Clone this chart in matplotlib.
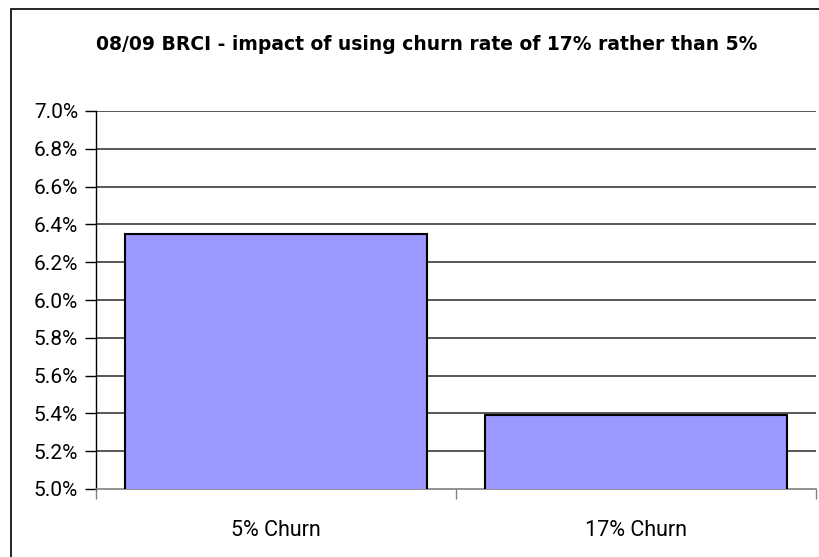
import matplotlib
matplotlib.use("Agg")
import matplotlib.pyplot as plt
from matplotlib.patches import Rectangle
from matplotlib.ticker import FixedLocator, FuncFormatter

categories = ["5% Churn", "17% Churn"]
values = [6.35, 5.39]
yticks = [5.0, 5.2, 5.4, 5.6, 5.8, 6.0, 6.2, 6.4, 6.6, 6.8, 7.0]
title = "08/09 BRCI - impact of using churn rate of 17% rather than 5%"

plt.rcParams['font.family'] = ['Roboto', 'DejaVu Sans']
fig = plt.figure(figsize=(8.2, 5.57), dpi=100)
W, H = 820, 557
fig.patches.append(Rectangle((11 / W, -0.05), 1.2, 1 - 9 / H + 0.05, transform=fig.transFigure,
                             fill=False, edgecolor='black', linewidth=1.2, zorder=0))

ax = fig.add_axes([96 / W, 1 - 489 / H, (816 - 96) / W, (489 - 111) / H])
x = list(range(len(categories)))
ax.bar(x, values, width=0.84, bottom=0, color='#9999FF', edgecolor='black', linewidth=1.5, zorder=3)
ax.set_xlim(-0.5, len(categories) - 0.5)
ax.set_ylim(5.0, 7.0)
ax.set_yticks(yticks)
ax.yaxis.set_major_formatter(FuncFormatter(lambda v, p: f"{v:.1f}%"))
for yv in yticks[1:]:
    ax.axhline(yv, color='#4a4a4a', linewidth=1.3, zorder=1)
ax.set_xticks(x)
ax.set_xticklabels(categories)
ax.xaxis.set_minor_locator(FixedLocator([-0.5, 0.5, 1.5]))
ax.tick_params(axis='x', which='major', length=0, pad=22, labelsize=15.5)
ax.tick_params(axis='x', which='minor', length=7, color='#808080', width=1)
ax.tick_params(axis='y', length=8, width=1, color='black', labelsize=15, pad=5)
for s in ['top', 'right']:
    ax.spines[s].set_visible(False)
ax.spines['bottom'].set_color('#808080')
ax.spines['bottom'].set_linewidth(1.2)
ax.spines['left'].set_color('black')
ax.spines['left'].set_linewidth(1)
fig.text(427 / W, 1 - 49.5 / H, title, ha='center', va='baseline',
         fontsize=13.5, fontweight='bold', family=['DejaVu Sans'])
fig.savefig("out.png", dpi=100)
